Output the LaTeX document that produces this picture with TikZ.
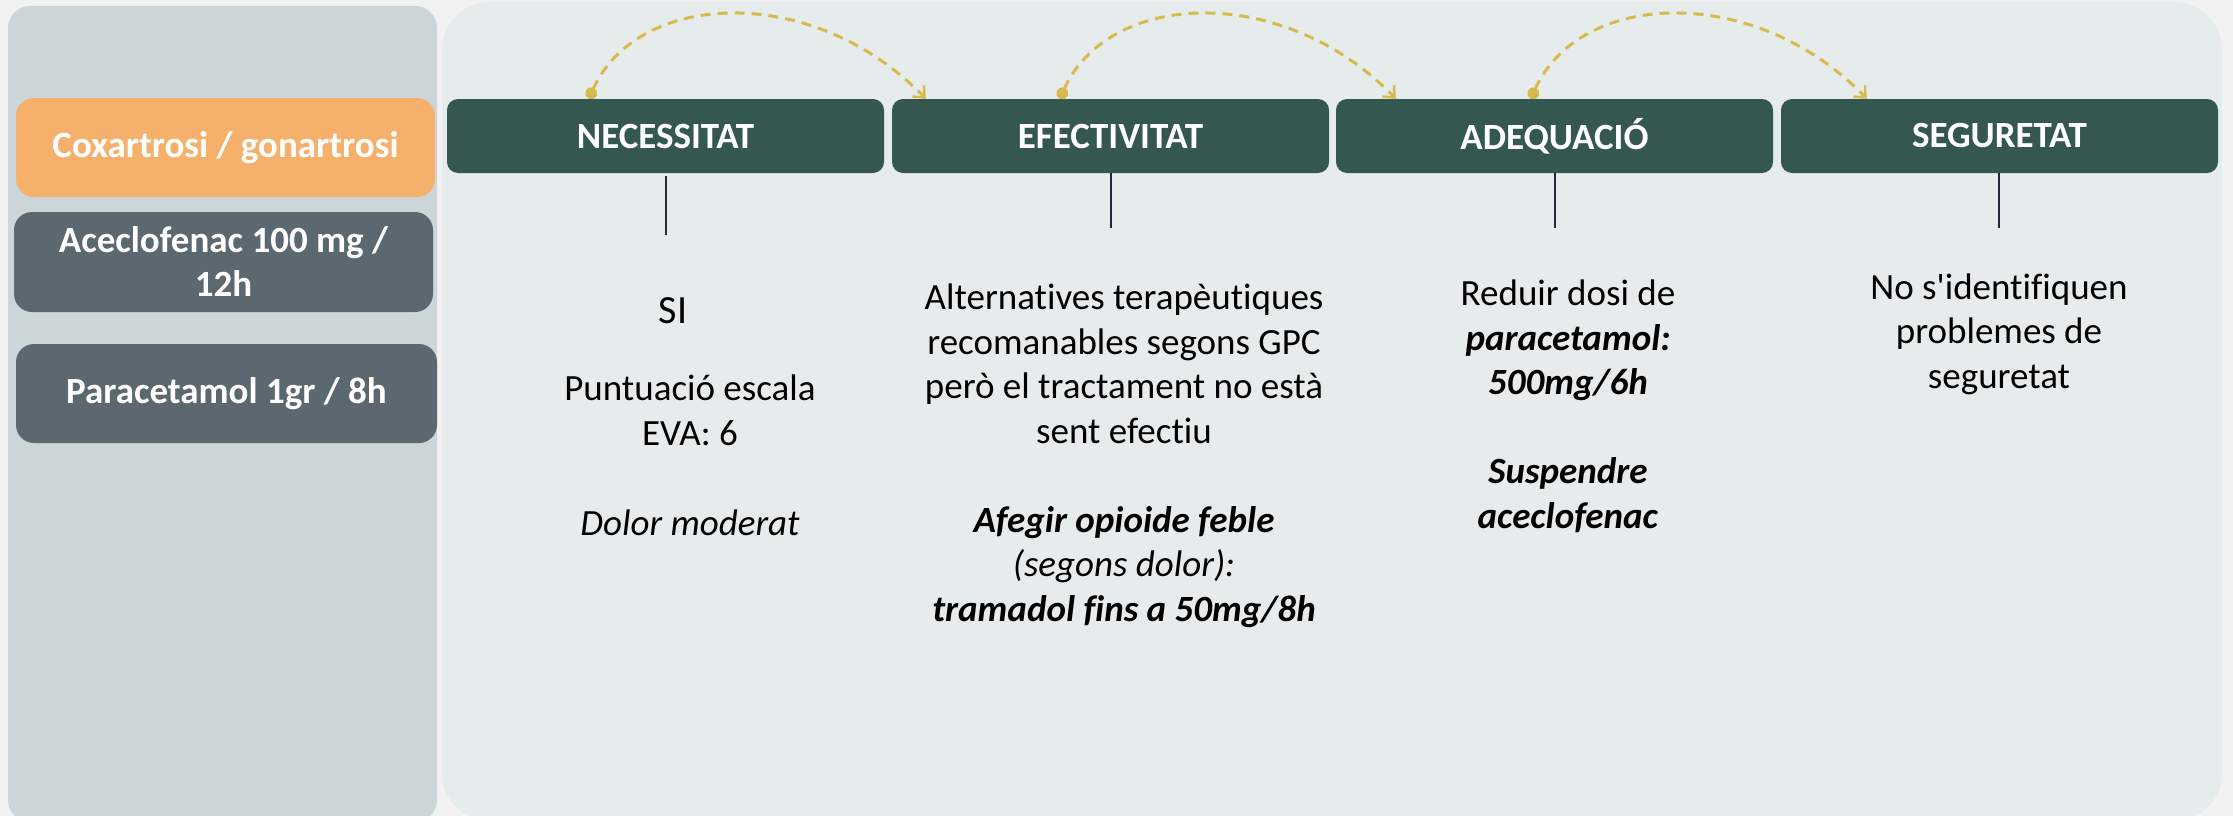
\documentclass[tikz,border=0pt]{standalone}
\usepackage{fontspec}
\setmainfont{Carlito}[Ligatures={TeXOff,NoCommon}]
\usetikzlibrary{arrows.meta,calc}
\definecolor{bgc}{HTML}{F2F2F2}
\definecolor{leftpanel}{HTML}{CCD5D8}
\definecolor{rightpanel}{HTML}{E6ECEB}
\definecolor{orangec}{HTML}{F5B16B}
\definecolor{greyc}{HTML}{5C6870}
\definecolor{hdrc}{HTML}{345750}
\definecolor{arcc}{HTML}{D8B94F}
\definecolor{linec}{HTML}{1E2A36}
\tikzset{
  lbox/.style={rounded corners=18pt, text=white, font=\bfseries\fontsize{37}{44}\selectfont,
    align=center, inner sep=0pt, minimum width=419pt, minimum height=99pt},
  hdr/.style={fill=hdrc, rounded corners=11pt, text=white, font=\bfseries\fontsize{37}{44}\selectfont,
    inner sep=0pt, minimum width=437pt, minimum height=74pt},
  body/.style={align=center, font=\fontsize{37}{44.5}\selectfont, inner sep=0pt, anchor=base, text=black},
  vline/.style={draw=linec, line width=2pt},
  hop/.style={draw=arcc, line width=3pt, dash pattern=on 10pt off 7pt,
    {Circle[length=12pt]}-{Straight Barb[length=9pt,width=16pt,line width=2.5pt]}},
}
\begin{document}
\begin{tikzpicture}[x=1pt,y=-1pt]
\useasboundingbox (0,0) rectangle (2233,816);
\fill[bgc] (0,0) rectangle (2233,816);
\begin{scope}
  \clip (0,0) rectangle (2233,816);
  \fill[leftpanel, rounded corners=22pt] (8,6) rectangle (437,822);
  \fill[rightpanel, rounded corners=48pt] (442,2) rectangle (2222,821);
\end{scope}

% left column
\node[lbox, fill=orangec] (cox) at (225.5,147.5) {Coxartrosi / gonartrosi};
\node[lbox, fill=greyc, minimum height=100pt] (acec) at (223.5,262) {Aceclofenac 100 mg /\\12h};
\node[lbox, fill=greyc, minimum width=421pt] (parac) at (226.5,393.5) {Paracetamol 1gr / 8h};

% headers
\node[hdr] (nec) at (665.5,136) {NECESSITAT};
\node[hdr] (eff) at (1110.5,136) {EFECTIVITAT};
\node[hdr] (adq) at (1554.5,136) {ADEQUACIÓ};
\node[hdr] (seg) at (1999.5,136) {SEGURETAT};

% vertical lines
\coordinate (necend) at (666,235);
\coordinate (effend) at (1111,228);
\coordinate (adqend) at (1555,228);
\coordinate (segend) at (1999,228);
\draw[vline] (nec.south) ++(0.5,3) -- (necend);
\draw[vline] (eff.south) ++(0.5,0) -- (effend);
\draw[vline] (adq.south) ++(0.5,0) -- (adqend);
\draw[vline] (seg.south) ++(-0.5,0) -- (segend);

% arcs
\coordinate (a1s) at ($(nec.north west)+(142,0)$);
\coordinate (a1e) at ($(eff.north west)+(34,0)$);
\coordinate (a2s) at ($(eff.north west)+(168,0)$);
\coordinate (a2e) at ($(adq.north west)+(60,0)$);
\coordinate (a3s) at ($(adq.north west)+(195,0)$);
\coordinate (a3e) at ($(seg.north west)+(86,0)$);
\draw[hop] (a1s) .. controls +(49,-109) and +(-112,-116) .. (a1e);
\draw[hop] (a2s) .. controls +(49,-109) and +(-112,-116) .. (a2e);
\draw[hop] (a3s) .. controls +(49,-109) and +(-112,-116) .. (a3e);

% body texts (anchor = baseline of the last line)
\node[body, font=\fontsize{40}{48}\selectfont] (si) at (673,323) {SI};
\node[body, font=\fontsize{37}{45}\selectfont] (punt) at (690,445) {Puntuació escala\\EVA: 6};
\node[body] (dolor) at (690,535) {\textit{Dolor moderat}};

\node[body] (efftxt) at (1124,621) {Alternatives terapèutiques\\recomanables segons GPC\\però el tractament no està\\sent efectiu\\[44.5pt]\textbf{\textit{Afegir opioide feble}}\\\textit{(segons dolor):}\\\textbf{\textit{tramadol fins a 50mg/8h}}};

\node[body] (adqtxt) at (1568,528) {Reduir dosi de\\\textbf{\textit{paracetamol:}}\\\textbf{\textit{500mg/6h}}\\[44.5pt]\textbf{\textit{Suspendre}}\\\textbf{\textit{aceclofenac}}};

\node[body] (segtxt) at (1999,388) {No s'identifiquen\\problemes de\\seguretat};
\end{tikzpicture}
\end{document}
